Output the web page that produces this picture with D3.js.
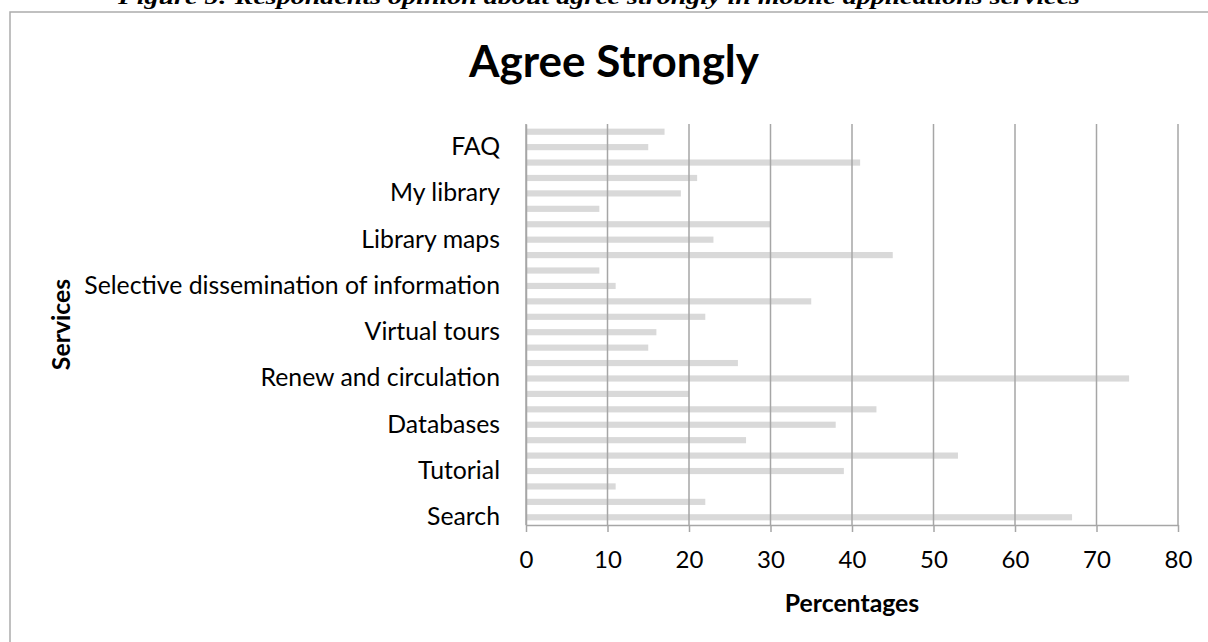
<!DOCTYPE html>
<html>
<head>
<meta charset="utf-8">
<script src="https://cdn.jsdelivr.net/npm/d3@7"></script>
<style>
  html, body { margin: 0; padding: 0; background: #fff; }
  svg { display: block; }
</style>
</head>
<body>
<svg id="chart" width="1208" height="642"></svg>
<script>
// Service rows, bottom to top; only every third row carries a visible label
const serviceLabels = [
  "Search", "", "", "Tutorial", "", "", "Databases", "", "",
  "Renew and circulation", "", "", "Virtual tours", "", "",
  "Selective dissemination of information", "", "", "Library maps", "", "",
  "My library", "", "", "FAQ", ""
];
// Percentage of respondents who agree strongly, same order as the rows
const agreeValues = [
  67, 22, 11, 39, 53, 27, 38, 43, 20, 74, 26, 15, 16,
  22, 35, 11, 9, 45, 23, 30, 9, 19, 21, 41, 15, 17
];
const xTicks = [0, 10, 20, 30, 40, 50, 60, 70, 80];

const captionText = "Figure 5: Respondents opinion about agree strongly in mobile applications services";
const titleText = "Agree Strongly";
const xTitle = "Percentages";
const yTitle = "Services";

const svg = d3.select("#chart");
const font = "Lato, 'Open Sans', sans-serif";

const plot = { left: 526, right: 1178, top: 124, bottom: 525 };

// Figure caption sitting above the chart frame
svg.append("text")
  .attr("x", 118).attr("y", 4)
  .attr("font-family", "'Liberation Serif', 'DejaVu Serif', serif")
  .attr("font-weight", "bold").attr("font-style", "italic")
  .attr("font-size", 22)
  .attr("textLength", 962).attr("lengthAdjust", "spacingAndGlyphs")
  .text(captionText);

// Chart frame (continues past the right and bottom edges)
svg.append("rect")
  .attr("x", 10).attr("y", 12)
  .attr("width", 1260).attr("height", 700)
  .attr("fill", "#fff")
  .attr("stroke", "#acacac").attr("stroke-width", 1.5);

const x = d3.scaleLinear().domain([0, 80]).range([plot.left, plot.right]);
const y = d3.scaleBand()
  .domain(d3.range(agreeValues.length))
  .range([plot.bottom, plot.top])
  .paddingInner(0.6).paddingOuter(0.3);

// Bars
svg.append("g")
  .selectAll("rect")
  .data(agreeValues)
  .join("rect")
  .attr("x", x(0))
  .attr("y", (d, i) => y(i))
  .attr("width", d => x(d) - x(0))
  .attr("height", y.bandwidth())
  .attr("fill", "#d9d9d9");

// Vertical gridlines
svg.append("g")
  .selectAll("line")
  .data(xTicks)
  .join("line")
  .attr("x1", d => x(d)).attr("x2", d => x(d))
  .attr("y1", plot.top).attr("y2", plot.bottom)
  .attr("stroke", "#a6a6a6").attr("stroke-width", 1.5);

// X axis
const xAxis = svg.append("g")
  .attr("transform", `translate(0,${plot.bottom})`)
  .call(d3.axisBottom(x).tickValues(xTicks).tickSize(7).tickSizeOuter(0));
xAxis.select(".domain").attr("stroke", "#a6a6a6").attr("stroke-width", 1.5);
xAxis.selectAll(".tick line").attr("stroke", "#a6a6a6").attr("stroke-width", 1.5);
xAxis.selectAll("text")
  .attr("font-family", font).attr("font-size", 24).attr("fill", "#000")
  .attr("y", 43).attr("dy", 0);

// Y axis (category labels)
const yAxis = svg.append("g")
  .attr("transform", `translate(${plot.left},0)`)
  .call(d3.axisLeft(y).tickSize(0).tickPadding(26).tickFormat(i => serviceLabels[i]));
yAxis.select(".domain").attr("stroke", "#a6a6a6").attr("stroke-width", 1.5);
yAxis.selectAll("text")
  .attr("font-family", font).attr("font-size", 24.8).attr("fill", "#000");

// Chart title
svg.append("text")
  .attr("x", 614).attr("y", 77)
  .attr("text-anchor", "middle")
  .attr("font-family", font).attr("font-weight", "bold").attr("font-size", 44)
  .text(titleText);

// Axis titles
svg.append("text")
  .attr("x", (plot.left + plot.right) / 2).attr("y", 612)
  .attr("text-anchor", "middle")
  .attr("font-family", font).attr("font-weight", "bold").attr("font-size", 24.8)
  .text(xTitle);

svg.append("text")
  .attr("transform", `translate(70,${(plot.top + plot.bottom) / 2}) rotate(-90)`)
  .attr("text-anchor", "middle")
  .attr("font-family", font).attr("font-weight", "bold").attr("font-size", 24.8)
  .text(yTitle);
</script>
</body>
</html>
